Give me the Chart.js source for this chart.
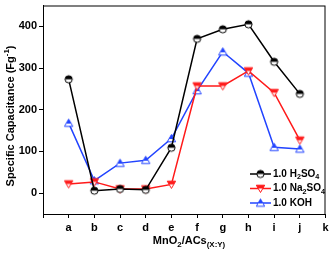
<!DOCTYPE html>
<html>
<head>
<meta charset="utf-8">
<script src="https://cdn.jsdelivr.net/npm/chart.js@4.4.1/dist/chart.umd.min.js"></script>
<style>
  html, body { margin: 0; padding: 0; background: #fff; }
  canvas { display: block; }
</style>
</head>
<body>
<canvas id="chart" width="331" height="254"></canvas>
<script>
"use strict";

// samples on the x axis (k carries no data)
var categories = ["a", "b", "c", "d", "e", "f", "g", "h", "i", "j", "k"];

// specific capacitance, F/g
var h2so4 = [273, 6, 10, 8, 109, 370, 393, 405, 315, 238, null];
var na2so4 = [22, 27, 10, 10, 21, 257, 257, 293, 241, 127, null];
var koh = [168, 30, 72, 79, 131, 246, 339, 288, 110, 106, null];

var yTicks = [0, 100, 200, 300, 400];

var FONT = "Liberation Sans, Arial, sans-serif";
var BLUE = "#2244ff";
var RED = "#ff1a1a";

/**
 * Half filled marker drawn into a small canvas, used as pointStyle.
 */
function makeMarker(shape, color) {
    var c = document.createElement("canvas");
    c.width = 11;
    c.height = 11;
    var g = c.getContext("2d");
    var m = 5.5;

    function path() {
        g.beginPath();
        if (shape === "circle") {
            g.arc(m, m, 3.6, 0, Math.PI * 2);
        } else if (shape === "up") {
            g.moveTo(m, 1.5);
            g.lineTo(m + 4.2, 8.8);
            g.lineTo(m - 4.2, 8.8);
            g.closePath();
        } else {
            g.moveTo(m - 4.2, 2.2);
            g.lineTo(m + 4.2, 2.2);
            g.lineTo(m, 9.5);
            g.closePath();
        }
    }

    path();
    g.fillStyle = "#fff";
    g.fill();
    // top half filled
    g.save();
    path();
    g.clip();
    g.fillStyle = color;
    g.fillRect(0, 0, 11, shape === "up" ? 6 : 5.5);
    g.restore();
    path();
    g.lineWidth = 1;
    g.strokeStyle = color;
    g.stroke();
    return c;
}

var markers = {
    h2so4: makeMarker("circle", "#000"),
    na2so4: makeMarker("down", RED),
    koh: makeMarker("up", BLUE)
};

/**
 * Draws text pieces with sub/superscripts, left aligned at x.
 */
function richWidth(ctx, parts, size) {
    var w = 0;
    parts.forEach(function (p) {
        ctx.font = "bold " + (p[1] ? size * 0.72 : size) + "px " + FONT;
        w += ctx.measureText(p[0]).width;
    });
    return w;
}

function drawRich(ctx, parts, x, y, size) {
    ctx.textBaseline = "middle";
    ctx.textAlign = "left";
    parts.forEach(function (p) {
        var s = p[1] ? size * 0.72 : size;
        var dy = p[1] === "sub" ? size * 0.35 : (p[1] === "sup" ? -size * 0.4 : 0);
        ctx.font = "bold " + s + "px " + FONT;
        ctx.fillText(p[0], x, y + dy);
        x += ctx.measureText(p[0]).width;
    });
}

var legendItems = [
    { marker: markers.h2so4, color: "#000", text: [["1.0 H", ""], ["2", "sub"], ["SO", ""], ["4", "sub"]] },
    { marker: markers.na2so4, color: RED, text: [["1.0 Na", ""], ["2", "sub"], ["SO", ""], ["4", "sub"]] },
    { marker: markers.koh, color: BLUE, text: [["1.0 KOH", ""]] }
];

var decorations = {
    id: "decorations",
    afterDraw: function (chart) {
        var ctx = chart.ctx;
        var ca = chart.chartArea;
        ctx.save();

        // frame
        ctx.strokeStyle = "#000";
        ctx.lineWidth = 1;
        ctx.strokeRect(ca.left + 0.5, ca.top + 0.5, ca.right - ca.left - 1, ca.bottom - ca.top);

        ctx.fillStyle = "#000";

        // y title
        var yParts = [["Specific Capacitance (Fg", ""], ["-1", "sup"], [")", ""]];
        ctx.save();
        ctx.translate(11, 116);
        ctx.rotate(-Math.PI / 2);
        drawRich(ctx, yParts, -richWidth(ctx, yParts, 11) / 2, 0, 11);
        ctx.restore();

        // x title
        var xParts = [["MnO", ""], ["2", "sub"], ["/ACs", ""], ["(X:Y)", "sub"]];
        drawRich(ctx, xParts, 189 - richWidth(ctx, xParts, 11) / 2, 241, 11);

        // legend
        legendItems.forEach(function (item, i) {
            var y = 174 + i * 14.5;
            ctx.strokeStyle = item.color;
            ctx.lineWidth = 1.5;
            ctx.beginPath();
            ctx.moveTo(250, y);
            ctx.lineTo(271, y);
            ctx.stroke();
            ctx.drawImage(item.marker, 255, y - 5.5);
            ctx.fillStyle = "#000";
            drawRich(ctx, item.text, 273, y, 10);
        });

        ctx.restore();
    }
};

function series(values, color, marker) {
    return {
        data: [null].concat(values),
        borderColor: color,
        backgroundColor: color,
        borderWidth: 1.5,
        pointStyle: marker,
        pointRadius: 4,
        spanGaps: false
    };
}

new Chart(document.getElementById("chart"), {
    type: "line",
    data: {
        labels: [""].concat(categories),
        datasets: [
            series(h2so4, "#000", markers.h2so4),
            series(na2so4, RED, markers.na2so4),
            series(koh, BLUE, markers.koh)
        ]
    },
    options: {
        responsive: false,
        animation: false,
        layout: { padding: { top: 2, right: 4, left: 0, bottom: 0 } },
        plugins: {
            legend: { display: false },
            tooltip: { enabled: false }
        },
        scales: {
            x: {
                type: "category",
                offset: false,
                afterFit: function (scale) {
                    scale.height = 40;
                    scale.paddingLeft = 0;
                    scale.paddingRight = 0;
                },
                grid: { drawOnChartArea: false, drawTicks: true, tickLength: 4, color: "#000" },
                border: { display: true, color: "#000", width: 1 },
                ticks: {
                    color: "#000",
                    maxRotation: 0,
                    autoSkip: false,
                    padding: 3,
                    font: { family: FONT, size: 11, weight: "bold" }
                }
            },
            y: {
                min: -50,
                max: 450,
                afterFit: function (scale) {
                    scale.width = 43;
                    scale.paddingTop = 0;
                    scale.paddingBottom = 0;
                },
                afterBuildTicks: function (scale) {
                    scale.ticks = yTicks.map(function (v) { return { value: v }; });
                },
                grid: { drawOnChartArea: false, drawTicks: true, tickLength: 4, color: "#000" },
                border: { display: true, color: "#000", width: 1 },
                ticks: {
                    color: "#000",
                    padding: 2,
                    font: { family: FONT, size: 11, weight: "bold" }
                }
            }
        }
    },
    plugins: [decorations]
});
</script>
</body>
</html>
